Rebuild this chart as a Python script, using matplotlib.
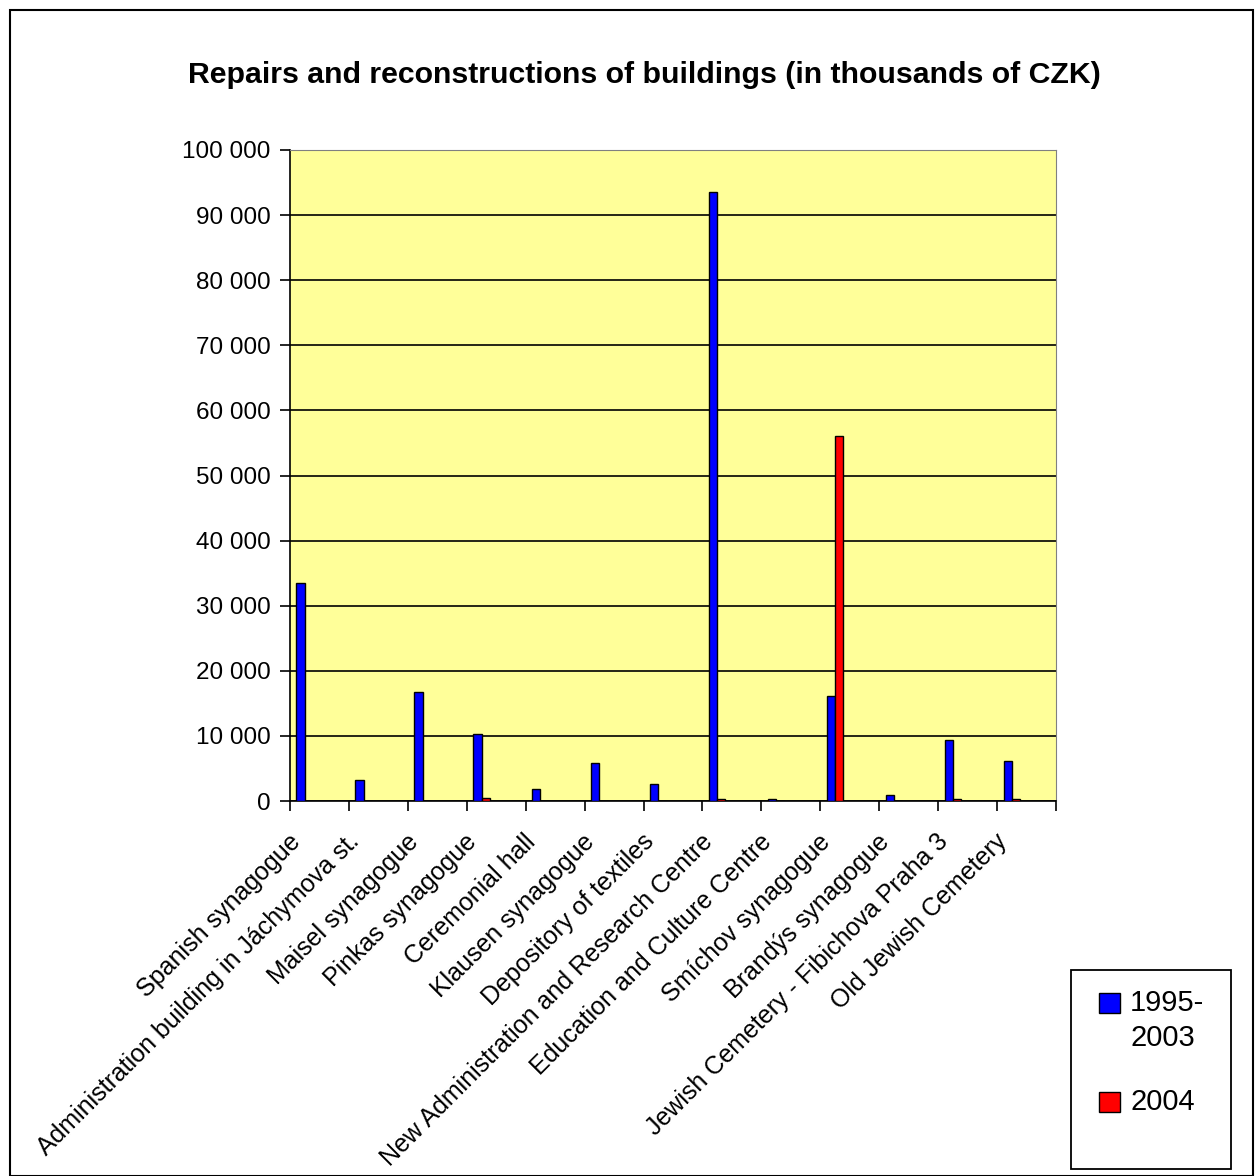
import numpy as np
import matplotlib
matplotlib.use("Agg")
from matplotlib import pyplot as plt
from matplotlib.patches import Rectangle
import matplotlib.transforms as mtransforms

plt.rcParams['font.family'] = ['Liberation Sans', 'DejaVu Sans']

categories = ["Spanish synagogue",
              "Administration building in Jáchymova st.",
              "Maisel synagogue",
              "Pinkas synagogue",
              "Ceremonial hall",
              "Klausen synagogue",
              "Depository of textiles",
              "New Administration and Research Centre",
              "Education and Culture Centre",
              "Smíchov synagogue",
              "Brandýs synagogue",
              "Jewish Cemetery - Fibichova Praha 3",
              "Old Jewish Cemetery"]
vals_1995_2003 = [33500, 3200, 16700, 10300, 1800, 5800, 2600, 93500, 300, 16100, 900, 9400, 6200]
vals_2004 = [0, 0, 0, 500, 0, 0, 0, 300, 0, 56100, 0, 300, 300]
series_labels = ["1995-\n2003", "2004"]
series_colors = ['#0000FF', '#FF0000']
yticks = [0, 10000, 20000, 30000, 40000, 50000, 60000, 70000, 80000, 90000, 100000]
ytick_labels = ["0", "10 000", "20 000", "30 000", "40 000", "50 000", "60 000",
                "70 000", "80 000", "90 000", "100 000"]

W, H = 1259, 1176
def fx(p):
    return p / W
def fy(p):
    return 1 - p / H

fig = plt.figure(figsize=(W/100, H/100), dpi=100)
ax = fig.add_axes([fx(290), fy(801), (1056-290)/W, (801-150)/H])

n = len(categories)
x = np.arange(n)
w = 0.14
ax.bar(x + 0.11, vals_1995_2003, width=w, align='edge', color=series_colors[0],
       edgecolor='black', linewidth=1, zorder=3)
ax.bar(x + 0.11 + w, vals_2004, width=w, align='edge', color=series_colors[1],
       edgecolor='black', linewidth=1, zorder=3)

ax.set_facecolor('#FFFF99')
ax.set_xlim(0, n)
ax.set_ylim(0, 100000)
ax.set_yticks(yticks)
ax.set_yticklabels(ytick_labels, fontsize=17.5)
ax.yaxis.grid(True, color='black', linewidth=1.2)
ax.set_axisbelow(True)
ax.tick_params(axis='y', direction='out', length=7, width=1.2, pad=7)

ax.set_xticks(np.arange(n + 1))
ax.set_xticklabels([])
ax.tick_params(axis='x', direction='out', length=7, width=1.2)
for s in ['top', 'right']:
    ax.spines[s].set_color('#808080')
for s in ['left', 'bottom']:
    ax.spines[s].set_color('black')
    ax.spines[s].set_linewidth(1.2)

# rotated category labels, right end a bit left and below the category centre
offset = mtransforms.ScaledTranslation(-0.23, -0.37, fig.dpi_scale_trans)
for i, lab in enumerate(categories):
    ax.text(i + 0.5, 0, lab, rotation=45, rotation_mode='anchor', ha='right', va='center',
            fontsize=18, transform=ax.get_xaxis_transform() + offset, clip_on=False)

fig.text(fx(644), fy(75), "Repairs and reconstructions of buildings (in thousands of CZK)",
         ha='center', va='center', fontsize=21.8, fontweight='bold')

# legend box drawn by hand (Excel style: marker next to the first line)
fig.patches.append(Rectangle((fx(1071), fy(1169)), (1231-1071)/W, (1169-970)/H,
                             transform=fig.transFigure, facecolor='white',
                             edgecolor='black', linewidth=1.3))
leg_rows = [1003, 1102]
for lab, col, yc in zip(series_labels, series_colors, leg_rows):
    fig.patches.append(Rectangle((fx(1099), fy(yc + 10)), 21/W, 20/H,
                                 transform=fig.transFigure, facecolor=col,
                                 edgecolor='black', linewidth=1))
    fig.text(fx(1130), fy(yc - 14), lab, ha='left', va='top', fontsize=21,
             linespacing=1.3)

fig.patches.append(Rectangle((fx(10), 0), 1243/W, 1 - 10/H, transform=fig.transFigure,
                             fill=False, edgecolor='black', linewidth=1.5))

fig.savefig("out.png", dpi=100)
